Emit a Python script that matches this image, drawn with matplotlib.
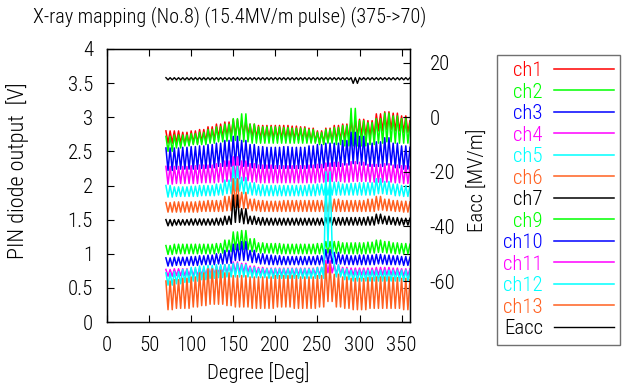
"""
X-ray mapping plot: PIN diode outputs per channel vs. rotation degree,
with the accelerating field (Eacc) on the right axis.
"""

import numpy as np
import matplotlib
matplotlib.use("Agg")
import matplotlib.pyplot as plt
from matplotlib import font_manager

# narrow sans if one is installed, otherwise plain Liberation Sans a bit smaller
installed = {f.name for f in font_manager.fontManager.ttflist}
NARROW = [n for n in ("Liberation Sans Narrow", "Roboto Condensed", "Open Sans Condensed")
          if n in installed]
if NARROW:
    plt.rcParams["font.family"] = [NARROW[0], "DejaVu Sans"]
    FS = 15
else:
    plt.rcParams["font.family"] = ["Liberation Sans", "DejaVu Sans"]
    FS = 13.5
plt.rcParams["font.weight"] = "light"
plt.rcParams["axes.labelweight"] = "light"
plt.rcParams["axes.unicode_minus"] = False

# ── Data ──────────────────────────────────────────────────────────────────────
# Sampling grid [deg]; each 10 deg block holds peak, trough, peak, trough.
DEGREE = np.arange(70, 360.1, 2.5)

# block starts: 70, 80, ..., 360  (30 blocks)
CH1_HI = [2.80, 2.80, 2.78, 2.80, 2.82, 2.86, 2.90, 2.93, 2.97, 2.95, 2.90, 2.88, 2.88, 2.88, 2.88,
          2.87, 2.86, 2.84, 2.80, 2.84, 2.88, 2.90, 2.95, 2.97, 2.95, 3.05, 3.08, 3.06, 3.02, 2.95]
CH1_LO = [2.62, 2.62, 2.60, 2.62, 2.64, 2.66, 2.70, 2.72, 2.74, 2.74, 2.70, 2.68, 2.68, 2.68, 2.68,
          2.67, 2.66, 2.64, 2.62, 2.64, 2.66, 2.68, 2.72, 2.74, 2.72, 2.80, 2.82, 2.80, 2.78, 2.74]
CH2_HI = [2.72, 2.74, 2.74, 2.76, 2.78, 2.82, 2.86, 2.90, 2.98, 3.05, 2.90, 2.86, 2.86, 2.86, 2.85,
          2.84, 2.84, 2.82, 2.78, 2.82, 2.85, 2.88, 3.13, 2.95, 2.92, 2.98, 3.06, 3.02, 2.98, 2.92]
CH2_LO = [2.50, 2.55, 2.58, 2.60, 2.60, 2.62, 2.64, 2.65, 2.66, 2.64, 2.62, 2.62, 2.62, 2.62, 2.62,
          2.62, 2.62, 2.62, 2.60, 2.62, 2.60, 2.58, 2.58, 2.58, 2.60, 2.62, 2.64, 2.62, 2.62, 2.60]
CH3_HI = [2.55, 2.55, 2.56, 2.57, 2.58, 2.60, 2.62, 2.66, 2.72, 2.66, 2.60, 2.57, 2.56, 2.56, 2.57,
          2.56, 2.56, 2.58, 2.60, 2.62, 2.62, 2.66, 2.78, 2.72, 2.62, 2.64, 2.70, 2.62, 2.58, 2.56]
CH3_LO = [2.22, 2.24, 2.24, 2.24, 2.25, 2.26, 2.28, 2.28, 2.30, 2.28, 2.26, 2.25, 2.25, 2.25, 2.25,
          2.25, 2.25, 2.26, 2.26, 2.28, 2.28, 2.30, 2.32, 2.30, 2.28, 2.28, 2.30, 2.26, 2.24, 2.24]
CH4_HI = [2.28, 2.28, 2.28, 2.29, 2.30, 2.30, 2.32, 2.36, 2.42, 2.36, 2.32, 2.30, 2.30, 2.29, 2.29,
          2.29, 2.29, 2.30, 2.31, 2.33, 2.34, 2.32, 2.35, 2.34, 2.31, 2.31, 2.32, 2.30, 2.29, 2.28]
CH4_LO = [2.02, 2.03, 2.03, 2.03, 2.04, 2.04, 2.05, 2.06, 2.10, 2.07, 2.05, 2.04, 2.04, 2.04, 2.04,
          2.04, 2.04, 2.04, 2.05, 2.06, 2.06, 2.05, 2.06, 2.06, 2.05, 2.05, 2.05, 2.04, 2.03, 2.03]
CH5_HI = [2.00, 1.98, 1.98, 1.99, 2.00, 2.00, 2.02, 2.08, 2.28, 2.12, 2.04, 2.01, 2.00, 2.00, 2.00,
          2.00, 2.00, 2.01, 2.02, 2.04, 2.05, 2.02, 2.03, 2.04, 2.04, 2.10, 2.06, 2.02, 2.00, 2.00]
CH5_LO = [1.83, 1.84, 1.84, 1.84, 1.85, 1.85, 1.86, 1.88, 1.92, 1.88, 1.86, 1.85, 1.85, 1.85, 1.85,
          1.85, 1.85, 1.85, 1.86, 1.86, 1.86, 1.86, 1.86, 1.86, 1.86, 1.88, 1.87, 1.85, 1.84, 1.84]
CH6_HI = [1.75, 1.76, 1.76, 1.76, 1.77, 1.78, 1.78, 1.84, 2.10, 1.90, 1.80, 1.78, 1.77, 1.77, 1.78,
          1.78, 1.78, 1.78, 1.78, 1.79, 1.80, 1.78, 1.78, 1.78, 1.80, 1.84, 1.80, 1.78, 1.77, 1.76]
CH6_LO = [1.61, 1.61, 1.61, 1.61, 1.62, 1.62, 1.62, 1.63, 1.68, 1.66, 1.63, 1.62, 1.62, 1.62, 1.62,
          1.62, 1.62, 1.62, 1.62, 1.62, 1.62, 1.62, 1.62, 1.62, 1.62, 1.64, 1.63, 1.62, 1.61, 1.61]
CH7_HI = [1.50, 1.50, 1.50, 1.51, 1.51, 1.51, 1.52, 1.55, 1.86, 1.66, 1.55, 1.53, 1.52, 1.52, 1.52,
          1.52, 1.52, 1.52, 1.52, 1.53, 1.53, 1.53, 1.53, 1.53, 1.54, 1.58, 1.55, 1.53, 1.52, 1.52]
CH7_LO = [1.41, 1.42, 1.42, 1.42, 1.42, 1.42, 1.42, 1.43, 1.46, 1.44, 1.43, 1.42, 1.42, 1.42, 1.42,
          1.42, 1.42, 1.42, 1.42, 1.42, 1.42, 1.42, 1.42, 1.42, 1.42, 1.44, 1.43, 1.42, 1.42, 1.42]
CH9_HI = [1.12, 1.14, 1.14, 1.14, 1.14, 1.14, 1.15, 1.20, 1.32, 1.34, 1.22, 1.16, 1.15, 1.15, 1.14,
          1.14, 1.14, 1.14, 1.15, 1.18, 1.18, 1.16, 1.16, 1.16, 1.17, 1.20, 1.18, 1.16, 1.15, 1.14]
CH9_LO = [0.99, 1.00, 1.00, 1.00, 1.00, 1.00, 1.01, 1.03, 1.06, 1.06, 1.03, 1.01, 1.01, 1.00, 1.00,
          1.00, 1.00, 1.00, 1.00, 1.01, 1.01, 1.00, 1.00, 1.00, 1.01, 1.02, 1.01, 1.00, 1.00, 1.00]
CH10_HI = [0.94, 0.95, 0.95, 0.96, 0.97, 0.98, 1.00, 1.05, 1.14, 1.18, 1.05, 1.00, 0.98, 0.97, 0.96,
           0.96, 0.96, 0.96, 0.97, 1.06, 1.02, 0.98, 0.97, 0.98, 0.98, 0.99, 0.98, 0.97, 0.96, 0.95]
CH10_LO = [0.82, 0.83, 0.83, 0.83, 0.84, 0.84, 0.85, 0.86, 0.90, 0.90, 0.87, 0.85, 0.84, 0.84, 0.84,
           0.84, 0.84, 0.84, 0.84, 0.86, 0.85, 0.84, 0.84, 0.84, 0.84, 0.85, 0.84, 0.84, 0.83, 0.83]
CH11_HI = [0.77, 0.78, 0.78, 0.78, 0.79, 0.80, 0.82, 0.84, 0.88, 0.86, 0.82, 0.80, 0.79, 0.79, 0.79,
           0.79, 0.79, 0.79, 0.80, 0.90, 0.84, 0.80, 0.79, 0.79, 0.79, 0.80, 0.80, 0.79, 0.78, 0.78]
CH11_LO = [0.67, 0.68, 0.68, 0.68, 0.69, 0.70, 0.71, 0.72, 0.73, 0.73, 0.71, 0.70, 0.69, 0.69, 0.69,
           0.69, 0.69, 0.69, 0.69, 0.72, 0.70, 0.69, 0.69, 0.69, 0.69, 0.69, 0.69, 0.69, 0.68, 0.68]
CH12_HI = [0.72, 0.74, 0.77, 0.80, 0.82, 0.83, 0.84, 0.84, 0.86, 0.84, 0.80, 0.78, 0.78, 0.78, 0.78,
           0.78, 0.78, 0.78, 0.80, 2.20, 0.84, 0.78, 0.76, 0.76, 0.76, 0.76, 0.76, 0.76, 0.76, 0.76]
CH12_LO = [0.54, 0.56, 0.58, 0.60, 0.62, 0.64, 0.65, 0.66, 0.66, 0.66, 0.65, 0.65, 0.64, 0.64, 0.64,
           0.64, 0.64, 0.64, 0.64, 1.10, 0.66, 0.62, 0.60, 0.60, 0.60, 0.60, 0.60, 0.60, 0.60, 0.60]
CH13_HI = [0.60, 0.62, 0.64, 0.66, 0.72, 0.78, 0.76, 0.72, 0.68, 0.68, 0.66, 0.66, 0.66, 0.68, 0.68,
           0.68, 0.66, 0.66, 0.68, 0.85, 0.70, 0.66, 0.64, 0.64, 0.65, 0.66, 0.66, 0.65, 0.64, 0.62]
CH13_LO = [0.18, 0.20, 0.20, 0.22, 0.24, 0.26, 0.26, 0.24, 0.22, 0.22, 0.20, 0.20, 0.20, 0.22, 0.22,
           0.20, 0.20, 0.20, 0.22, 0.30, 0.22, 0.20, 0.18, 0.18, 0.20, 0.20, 0.20, 0.20, 0.18, 0.18]

# Eacc [MV/m] on the right axis
EACC_HI = [14.5] * 22 + [14.5, 14.5] + [14.5] * 6
EACC_LO = [13.7] * 22 + [12.4, 13.7] + [13.7] * 6

CHANNELS = ["ch1", "ch2", "ch3", "ch4", "ch5", "ch6", "ch7",
            "ch9", "ch10", "ch11", "ch12", "ch13"]
COLORS = ["#ff0000", "#00ff00", "#0000ff", "#ff00ff", "#00ffff", "#ff6020", "#000000",
          "#00ff00", "#0000ff", "#ff00ff", "#00ffff", "#ff6020"]
HIGHS = [CH1_HI, CH2_HI, CH3_HI, CH4_HI, CH5_HI, CH6_HI, CH7_HI,
         CH9_HI, CH10_HI, CH11_HI, CH12_HI, CH13_HI]
LOWS = [CH1_LO, CH2_LO, CH3_LO, CH4_LO, CH5_LO, CH6_LO, CH7_LO,
        CH9_LO, CH10_LO, CH11_LO, CH12_LO, CH13_LO]

X_TICKS = [0, 50, 100, 150, 200, 250, 300, 350]
Y_TICKS = [0, 0.5, 1, 1.5, 2, 2.5, 3, 3.5, 4]
Y_TICK_LABELS = ["0", "0.5", "1", "1.5", "2", "2.5", "3", "3.5", "4"]
Y2_TICKS = [-60, -40, -20, 0, 20]

TITLE = "X-ray mapping (No.8) (15.4MV/m pulse) (375->70)"
W, H = 624, 387
AX_L, AX_R, AX_T, AX_B = 107, 410, 49, 322   # plot frame in pixels


def trace(hi, lo):
    """Interleave peak / trough readings into one zig-zag series."""
    v = np.column_stack([hi, lo, hi, lo]).ravel()
    return v[:len(DEGREE)]


# ── Plot ──────────────────────────────────────────────────────────────────────

fig = plt.figure(figsize=(W / 100, H / 100), dpi=100)
ax = fig.add_axes([AX_L / W, 1 - AX_B / H, (AX_R - AX_L) / W, (AX_B - AX_T) / H])
ax2 = ax.twinx()

handles = []
for name, color, hi, lo in zip(CHANNELS, COLORS, HIGHS, LOWS):
    line, = ax.plot(DEGREE, trace(hi, lo), color=color, lw=1.1, label=name)
    handles.append(line)

eacc, = ax2.plot(DEGREE, trace(EACC_HI, EACC_LO), color="black", lw=1.0, label="Eacc")
handles.append(eacc)

ax.set_xlim(0, 360)
ax.set_ylim(0, 4)
ax2.set_ylim(-75, 25)

ax.set_xticks(X_TICKS)
ax.set_yticks(Y_TICKS)
ax.set_yticklabels(Y_TICK_LABELS)
ax2.set_yticks(Y2_TICKS)

ax.tick_params(direction="in", top=True, right=True, length=5, width=0.8,
               labelsize=FS, pad=10)
ax2.tick_params(direction="in", length=5, width=0.8, labelsize=FS, pad=14)

for sp in ax.spines.values():
    sp.set_linewidth(1.0)

pw, ph = AX_R - AX_L, AX_B - AX_T
ax.set_xlabel("Degree [Deg]", fontsize=FS)
ax.xaxis.set_label_coords(0.5, (AX_B - 373) / ph)
ax.set_ylabel("PIN diode output  [V]", fontsize=FS + 1)
ax.yaxis.set_label_coords((18 - AX_L) / pw, (AX_B - 171) / ph)
ax2.set_ylabel("Eacc [MV/m]", fontsize=FS)
ax2.yaxis.set_label_coords((478 - AX_L) / pw, (AX_B - 180) / ph)
ax.xaxis.label.set_va("center")
ax.yaxis.label.set_va("center")
ax2.yaxis.label.set_va("center")

fig.text(33 / W, 1 - 17 / H, TITLE, fontsize=FS - 0.4, ha="left", va="center")

leg = fig.legend(handles=handles, loc="upper left",
                 bbox_to_anchor=(497 / W, 1 - 55 / H), borderaxespad=0,
                 markerfirst=False, labelcolor="linecolor", fontsize=FS,
                 handlelength=2.85, handletextpad=0.55, labelspacing=0.12,
                 borderpad=0.3, fancybox=False, framealpha=1)
leg.get_frame().set_edgecolor("#707070")
leg.get_frame().set_linewidth(1.0)

fig.savefig("out.png", dpi=100)
